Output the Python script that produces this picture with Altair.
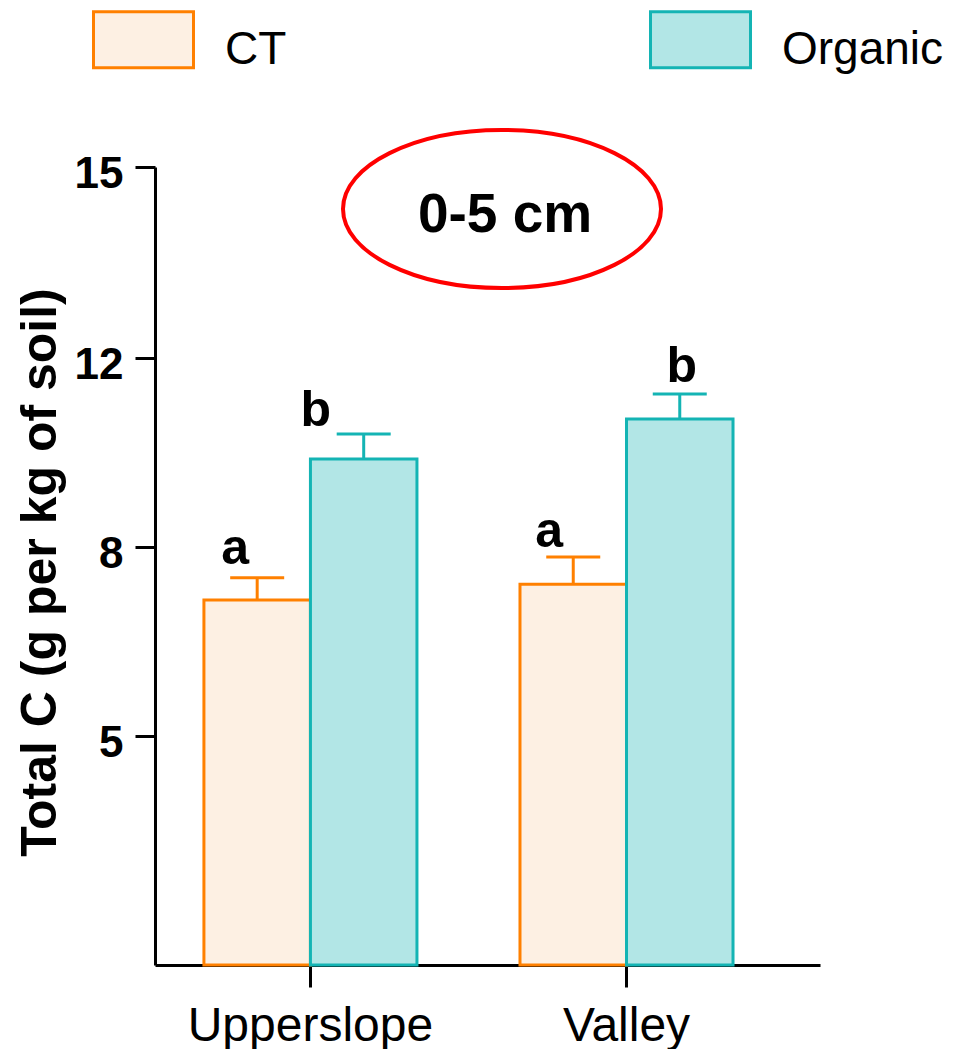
import altair as alt
import pandas as pd

# ---- data ----
sites = ["Upperslope", "Valley"]
series = ["CT", "Organic"]
ct_mean = [7.16, 7.41]
ct_err = [0.35, 0.43]
org_mean = [9.86, 10.71]
org_err = [0.53, 0.53]
ct_letters = ["a", "a"]
org_letters = ["b", "b"]
y_ticks = [5, 8, 12, 15]
y_min = 1.4
annotation = "0-5 cm"
y_title = "Total C (g per kg of soil)"

# ---- styles ----
FONT = "Liberation Sans"
fills = ["#FDF0E3", "#B2E6E6"]
strokes = ["#FF8000", "#14B4B4"]
LETTER_DX = [-22, -48, -24, 2]
LETTER_DY = [-14, -8, -10, -12]

rows = []
for i, s in enumerate(sites):
    rows.append(dict(site=s, series="CT", mean=ct_mean[i], upper=ct_mean[i] + ct_err[i], letter=ct_letters[i]))
    rows.append(dict(site=s, series="Organic", mean=org_mean[i], upper=org_mean[i] + org_err[i], letter=org_letters[i]))
df = pd.DataFrame(rows)
df["idx"] = range(len(df))

W, H = 665, 798
xscale = alt.Scale(domain=sites, paddingInner=0.326, paddingOuter=0.215, align=0.36)
xoff = alt.XOffset("series:N", scale=alt.Scale(domain=series, paddingInner=0, paddingOuter=0))
x_enc = alt.X("site:N", scale=xscale, sort=sites,
              axis=alt.Axis(title=None, labelAngle=0, tickSize=22, labelFontSize=48,
                            labelFont=FONT, labelFontWeight="normal", labelPadding=15,
                            labelColor="black", labelLimit=0))
yscale = alt.Scale(domain=[y_min, 5, 8, 12, 15], range=[H, 569, 380, 191, 0],
                   zero=False, nice=False)
yaxis = alt.Axis(values=y_ticks, format="d", tickSize=20, labelFontSize=44, labelFont=FONT,
                 labelFontWeight="bold", labelPadding=12, labelOffset=7, labelColor="black",
                 title=y_title, titleFontSize=50, titleFont=FONT, titleFontWeight="bold",
                 titleColor="black", titleX=-100, titleY=405, titleAngle=270,
                 titleBaseline="alphabetic", titleAlign="center", titleLimit=0)

RECT_PATH = "M-1,-0.76L1,-0.76L1,0.36L-1,0.36Z"
leg = alt.Legend(orient="none", legendX=-63, legendY=-169, direction="horizontal", title=None,
                 symbolType=RECT_PATH, symbolSize=10000, symbolStrokeWidth=3,
                 labelFontSize=46, labelFont=FONT, labelColor="black", labelOffset=30,
                 labelLimit=0, columnPadding=357, padding=0, symbolOpacity=1)
fill_enc = alt.Fill("series:N", scale=alt.Scale(domain=series, range=fills), legend=leg)
stroke_enc = alt.Stroke("series:N", scale=alt.Scale(domain=series, range=strokes), legend=leg)

base = alt.Chart(df)

bars = base.mark_bar(strokeWidth=3, opacity=1).encode(
    x=x_enc, xOffset=xoff,
    y=alt.Y("mean:Q", scale=yscale, axis=yaxis),
    y2=alt.datum(y_min),
    fill=fill_enc, stroke=stroke_enc,
)

err = base.mark_rule(strokeWidth=3).encode(
    x=x_enc, xOffset=xoff,
    y=alt.Y("mean:Q", scale=yscale, axis=yaxis),
    y2="upper:Q",
    stroke=stroke_enc,
)

caps = base.mark_tick(orient="horizontal", size=54, thickness=3, opacity=1).encode(
    x=x_enc, xOffset=xoff,
    y=alt.Y("upper:Q", scale=yscale, axis=yaxis),
    color=alt.Color("series:N", scale=alt.Scale(domain=series, range=strokes), legend=None),
)

letter_layers = []
for i in range(len(df)):
    letter_layers.append(
        base.transform_filter(alt.datum.idx == i).mark_text(
            font=FONT, fontSize=50, fontWeight="bold", color="black",
            baseline="alphabetic", align="center", dx=LETTER_DX[i], dy=LETTER_DY[i]
        ).encode(
            x=x_enc, xOffset=xoff,
            y=alt.Y("upper:Q", scale=yscale, axis=yaxis),
            text="letter:N",
        )
    )

ELLIPSE = "M-1,0A1,0.497 0 1,0 1,0A1,0.497 0 1,0 -1,0Z"
ann_df = pd.DataFrame({"label": [annotation]})
ellipse = alt.Chart(ann_df).mark_point(shape=ELLIPSE, size=318 * 318, filled=False,
                                        stroke="#FF0000", strokeWidth=4, opacity=1).encode(
    x=alt.value(347), y=alt.value(42))
ann_text = alt.Chart(ann_df).mark_text(font=FONT, fontSize=55, fontWeight="bold", color="black",
                                      baseline="alphabetic", align="center").encode(
    x=alt.value(350), y=alt.value(65), text="label:N")

chart = alt.layer(bars, err, caps, *letter_layers, ellipse, ann_text).resolve_scale(
    color="independent"
).properties(
    width=W, height=H,
    autosize=alt.AutoSizeParams(type="none"),
    padding={"left": 147, "top": 159, "right": 140, "bottom": 84},
).configure_view(stroke=None).configure_axis(
    domainColor="black", domainWidth=3, tickColor="black", tickWidth=3, grid=False,
)

chart.save("out.html", embed_options={"renderer": "svg", "actions": False})
